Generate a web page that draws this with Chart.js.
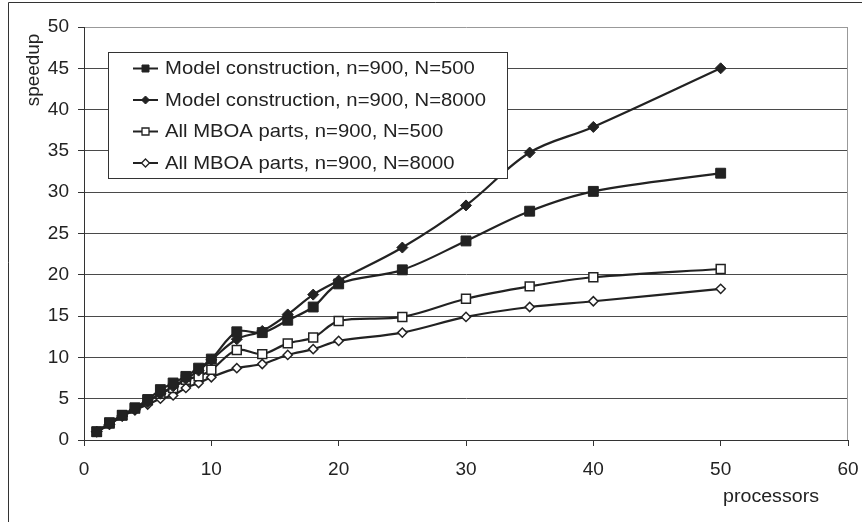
<!DOCTYPE html>
<html>
<head>
<meta charset="utf-8">
<script src="https://cdn.jsdelivr.net/npm/chart.js@4/dist/chart.umd.min.js"></script>
<style>
  html, body { margin: 0; padding: 0; background: #fff; }
  #wrap { width: 862px; height: 522px; }
</style>
</head>
<body>
<div id="wrap"><canvas id="speedupChart" width="862" height="522"></canvas></div>
<script>
// processor counts on the x axis
const procs = [1, 2, 3, 4, 5, 6, 7, 8, 9, 10, 12, 14, 16, 18, 20, 25, 30, 35, 40, 50];

const modelN500  = [1.0, 2.1, 3.0, 3.9, 4.9, 6.1, 6.9, 7.7, 8.7, 9.8, 13.1, 13.0, 14.5, 16.1, 18.9, 20.6, 24.1, 27.7, 30.1, 32.3];
const modelN8000 = [1.0, 1.9, 2.9, 3.7, 4.6, 5.6, 6.5, 7.4, 8.4, 9.7, 12.2, 13.2, 15.2, 17.6, 19.3, 23.3, 28.4, 34.8, 37.9, 45.0];
const allN500    = [1.0, 2.0, 3.0, 3.8, 4.8, 5.6, 6.3, 7.3, 7.7, 8.5, 10.9, 10.4, 11.7, 12.4, 14.4, 14.9, 17.1, 18.6, 19.7, 20.7];
const allN8000   = [1.0, 1.9, 2.9, 3.6, 4.3, 5.0, 5.4, 6.3, 6.9, 7.6, 8.7, 9.2, 10.3, 11.0, 12.0, 13.0, 14.9, 16.1, 16.8, 18.3];

const seriesLabels = [
  'Model construction, n=900, N=500',
  'Model construction, n=900, N=8000',
  'All MBOA parts, n=900, N=500',
  'All MBOA parts, n=900, N=8000',
];

const xTitle = 'processors';
const yTitle = 'speedup';

const INK = '#222';
const FONT = '"Liberation Sans", Arial, sans-serif';

function pts(ys) {
  return procs.map((x, i) => ({ x, y: ys[i] }));
}

function series(label, ys, style, filled, radius) {
  return {
    label,
    data: pts(ys),
    borderColor: INK,
    borderWidth: 2.2,
    tension: 0.35,
    pointStyle: style,
    pointRadius: radius,
    pointBorderColor: INK,
    pointBackgroundColor: filled ? INK : '#fff',
    pointBorderWidth: filled ? 1 : 1.5,
    _filled: filled,
  };
}

// white page, outer frame, plot frame and axis titles
const framePlugin = {
  id: 'frame',
  beforeDraw(chart) {
    const c = chart.ctx;
    c.save();
    c.fillStyle = '#fff';
    c.fillRect(0, 0, chart.width, chart.height);
    c.strokeStyle = '#333';
    c.lineWidth = 1;
    c.beginPath();
    c.moveTo(8.5, chart.height);
    c.lineTo(8.5, 2.5);
    c.lineTo(chart.width, 2.5);
    c.stroke();
    c.restore();
  },
  afterDraw(chart) {
    const c = chart.ctx;
    const a = chart.chartArea;
    c.save();
    c.strokeStyle = '#999';
    c.lineWidth = 1;
    c.beginPath();
    c.moveTo(Math.round(a.right) - 0.5, a.top);
    c.lineTo(Math.round(a.right) - 0.5, a.bottom);
    c.stroke();

    c.fillStyle = INK;
    c.font = '18px ' + FONT;
    c.textBaseline = 'middle';
    c.textAlign = 'center';
    c.save();
    c.translate(34, 70);
    c.rotate(-Math.PI / 2);
    c.scale(1.05, 1);
    c.fillText(yTitle, 0, 0);
    c.restore();
    c.save();
    c.translate(771, 497);
    c.scale(1.09, 1);
    c.fillText(xTitle, 0, 0);
    c.restore();
    c.restore();
  },
};

// boxed legend sitting inside the plot area
const boxLegend = {
  id: 'boxLegend',
  afterDatasetsDraw(chart) {
    const c = chart.ctx;
    const box = { x: 108.5, y: 52.5, w: 399, h: 126 };
    c.save();
    c.fillStyle = '#fff';
    c.fillRect(box.x, box.y, box.w, box.h);
    c.strokeStyle = '#333';
    c.lineWidth = 1;
    c.strokeRect(box.x, box.y, box.w, box.h);

    chart.data.datasets.forEach((ds, i) => {
      const y = 68.5 + i * 31.5;
      c.strokeStyle = INK;
      c.lineWidth = 2;
      c.beginPath();
      c.moveTo(133, y);
      c.lineTo(158, y);
      c.stroke();
      c.fillStyle = ds._filled ? INK : '#fff';
      c.strokeStyle = INK;
      c.lineWidth = ds._filled ? 1 : 1.3;
      c.beginPath();
      if (ds.pointStyle === 'rect') {
        c.rect(145.5 - 3.5, y - 3.5, 7, 7);
      } else {
        c.moveTo(145.5, y - 4);
        c.lineTo(149.5, y);
        c.lineTo(145.5, y + 4);
        c.lineTo(141.5, y);
        c.closePath();
      }
      c.fill();
      c.stroke();

      c.fillStyle = INK;
      c.font = '18.6px ' + FONT;
      c.textBaseline = 'middle';
      c.textAlign = 'left';
      c.save();
      c.translate(165, y + 0.5);
      c.scale(1.09, 1);
      c.fillText(ds.label, 0, 0);
      c.restore();
    });
    c.restore();
  },
};

const ctx = document.getElementById('speedupChart').getContext('2d');
const chart = new Chart(ctx, {
  type: 'line',
  data: {
    datasets: [
      series(seriesLabels[0], modelN500,  'rect',    true,  7),
      series(seriesLabels[1], modelN8000, 'rectRot', true,  5.5),
      series(seriesLabels[2], allN500,    'rect',    false, 6.3),
      series(seriesLabels[3], allN8000,   'rectRot', false, 4.6),
    ],
  },
  options: {
    animation: false,
    responsive: false,
    devicePixelRatio: 1,
    layout: { padding: { top: 27, right: 14, left: 0, bottom: 0 } },
    scales: {
      x: {
        type: 'linear',
        min: 0,
        max: 60,
        afterFit: (s) => {
          s.height = 82;
          s.paddingLeft = 0;
          s.paddingRight = 0;
        },
        ticks: { stepSize: 10, color: INK, padding: 12, font: { family: FONT, size: 19 } },
        grid: { drawOnChartArea: false, tickLength: 6, tickColor: '#333' },
        border: { color: '#333', width: 1 },
      },
      y: {
        min: 0,
        max: 50,
        afterFit: (s) => {
          s.width = 84;
          s.paddingTop = 0;
          s.paddingBottom = 0;
        },
        ticks: { stepSize: 5, color: INK, padding: 9, font: { family: FONT, size: 19 } },
        grid: {
          color: (c) => (c.tick && c.tick.value === 50 ? '#999' : '#4a4a4a'),
          tickLength: 6,
          tickColor: '#333',
        },
        border: { color: '#333', width: 1 },
      },
    },
    plugins: {
      legend: { display: false },
      tooltip: { enabled: false },
    },
  },
  plugins: [framePlugin, boxLegend],
});
</script>
</body>
</html>
